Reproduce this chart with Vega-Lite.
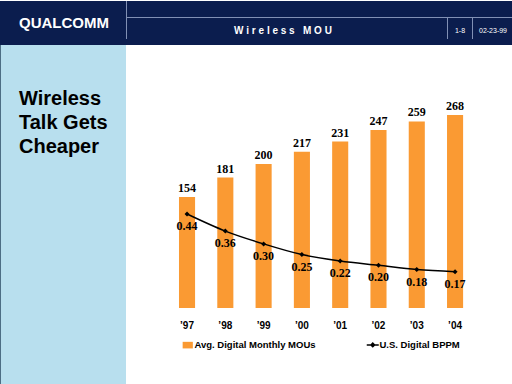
{
  "$schema": "https://vega.github.io/schema/vega-lite/v6.json",
  "padding": 0,
  "spacing": 0,
  "bounds": "flush",
  "background": "white",
  "config": {"view": {"stroke": null}, "font": "Liberation Sans"},
  "datasets": {
    "mou": [
      {"year": "’97", "mou": 154, "bppm": 0.44},
      {"year": "’98", "mou": 181, "bppm": 0.36},
      {"year": "’99", "mou": 200, "bppm": 0.30},
      {"year": "’00", "mou": 217, "bppm": 0.25},
      {"year": "’01", "mou": 231, "bppm": 0.22},
      {"year": "’02", "mou": 247, "bppm": 0.20},
      {"year": "’03", "mou": 259, "bppm": 0.18},
      {"year": "’04", "mou": 268, "bppm": 0.17}
    ]
  },
  "vconcat": [
    {
      "width": 512,
      "height": 44,
      "view": {"fill": "#0b1d4e", "stroke": null},
      "data": {"values": [{}]},
      "layer": [
        {"mark": {"type": "rule", "color": "#8190b4", "strokeWidth": 1},
         "encoding": {"x": {"value": 126.5}, "y": {"value": 0}, "y2": {"value": 38}}},
        {"mark": {"type": "rule", "color": "#8190b4", "strokeWidth": 1},
         "encoding": {"x": {"value": 126.5}, "x2": {"value": 512}, "y": {"value": 16.5}}},
        {"mark": {"type": "rule", "color": "#8190b4", "strokeWidth": 1},
         "encoding": {"x": {"value": 447.5}, "y": {"value": 16.5}, "y2": {"value": 38}}},
        {"mark": {"type": "rule", "color": "#8190b4", "strokeWidth": 1},
         "encoding": {"x": {"value": 472.5}, "y": {"value": 16.5}, "y2": {"value": 38}}},
        {"mark": {"type": "text", "color": "white", "font": "Liberation Sans", "fontWeight": "bold", "fontSize": 15, "align": "center", "baseline": "middle"},
         "encoding": {"x": {"value": 64}, "y": {"value": 22}, "text": {"value": "QUALCOMM"}}},
        {"mark": {"type": "text", "color": "white", "font": "Liberation Sans", "fontWeight": "bold", "fontSize": 10, "align": "center", "baseline": "middle"},
         "encoding": {"x": {"value": 283}, "y": {"value": 30}, "text": {"value": "W i r e l e s s\u00a0\u00a0\u00a0M O U"}}},
        {"mark": {"type": "text", "color": "white", "font": "Liberation Sans", "fontSize": 7, "align": "center", "baseline": "middle"},
         "encoding": {"x": {"value": 460}, "y": {"value": 30}, "text": {"value": "1-8"}}},
        {"mark": {"type": "text", "color": "white", "font": "Liberation Sans", "fontSize": 7, "align": "center", "baseline": "middle"},
         "encoding": {"x": {"value": 493}, "y": {"value": 30}, "text": {"value": "02-23-99"}}}
      ]
    },
    {
      "spacing": 0,
      "bounds": "flush",
      "hconcat": [
        {
          "width": 126,
          "height": 340,
          "view": {"fill": "#b8dfee", "stroke": null},
          "data": {"values": [{}]},
          "layer": [
            {"mark": {"type": "rule", "color": "#4d6e84", "strokeWidth": 1},
             "encoding": {"x": {"value": 0.5}, "y": {"value": 0}, "y2": {"value": 340}}},
            {"mark": {"type": "text", "color": "black", "font": "Liberation Sans", "fontWeight": "bold", "fontSize": 20, "align": "left", "baseline": "alphabetic", "lineHeight": 24},
             "encoding": {"x": {"value": 19}, "y": {"value": 60}, "text": {"value": ["Wireless", "Talk Gets", "Cheaper"]}}}
          ]
        },
        {
          "width": 386,
          "height": 263,
          "data": {"name": "mou"},
          "encoding": {
            "x": {
              "field": "year", "type": "nominal", "sort": null,
              "scale": {"paddingInner": 0.58, "paddingOuter": 1, "range": [14.7, 375.4]},
              "axis": {"title": null, "domain": false, "ticks": false, "labelAngle": 0, "labelFont": "Liberation Sans", "labelFontWeight": "bold", "labelFontSize": 10, "labelColor": "black", "labelPadding": 12}
            }
          },
          "layer": [
            {
              "encoding": {
                "y": {"field": "mou", "type": "quantitative", "scale": {"domain": [0, 365], "nice": false, "zero": true}, "axis": null}
              },
              "layer": [
                {"mark": {"type": "bar", "color": "#fa9a33"},
                 "encoding": {"color": {"datum": "Avg. Digital Monthly MOUs", "type": "nominal",
                   "scale": {"domain": ["Avg. Digital Monthly MOUs", "U.S. Digital BPPM"], "range": ["#fa9a33", "black"]},
                   "legend": {
                     "title": null, "orient": "none", "legendX": 183, "legendY": 339, "direction": "horizontal",
                     "labelFont": "Liberation Sans", "labelFontWeight": "bold", "labelFontSize": 9.5, "labelColor": "black",
                     "symbolSize": 144, "labelOffset": 2, "columnPadding": 47,
                     "encode": {"symbols": {"update": {
                       "shape": {"signal": "datum.value === 'U.S. Digital BPPM' ? 'M-1,0H1M-0.3,0L0,-0.3L0.3,0L0,0.3Z' : 'M-0.85,-0.55H0.85V0.55H-0.85Z'"},
                       "fill": {"signal": "datum.value === 'U.S. Digital BPPM' ? 'black' : '#fa9a33'"},
                       "stroke": {"signal": "datum.value === 'U.S. Digital BPPM' ? 'black' : '#fa9a33'"},
                       "strokeWidth": {"signal": "datum.value === 'U.S. Digital BPPM' ? 1.5 : 0"},
                       "fillOpacity": {"value": 1},
                       "opacity": {"value": 1}
                     }}}
                   }}}},
                {"mark": {"type": "text", "font": "Liberation Serif", "fontWeight": "bold", "fontSize": 12, "baseline": "alphabetic", "dy": -5, "color": "black"},
                 "encoding": {"text": {"field": "mou", "type": "quantitative"}}}
              ]
            },
            {
              "encoding": {
                "y": {"field": "bppm", "type": "quantitative", "scale": {"domain": [0, 1.231], "nice": false, "zero": true}, "axis": null}
              },
              "layer": [
                {"mark": {"type": "line", "color": "black", "strokeWidth": 1.5, "interpolate": "monotone",
                          "point": {"shape": "diamond", "filled": true, "size": 25, "color": "black"}},
                 "encoding": {"color": {"datum": "U.S. Digital BPPM", "type": "nominal"}}},
                {"mark": {"type": "text", "font": "Liberation Serif", "fontWeight": "bold", "fontSize": 12, "baseline": "alphabetic", "dy": 16, "color": "black"},
                 "encoding": {"text": {"field": "bppm", "type": "quantitative", "format": ".2f"}}}
              ]
            }
          ],
          "resolve": {"scale": {"y": "independent"}}
        }
      ]
    }
  ]
}
